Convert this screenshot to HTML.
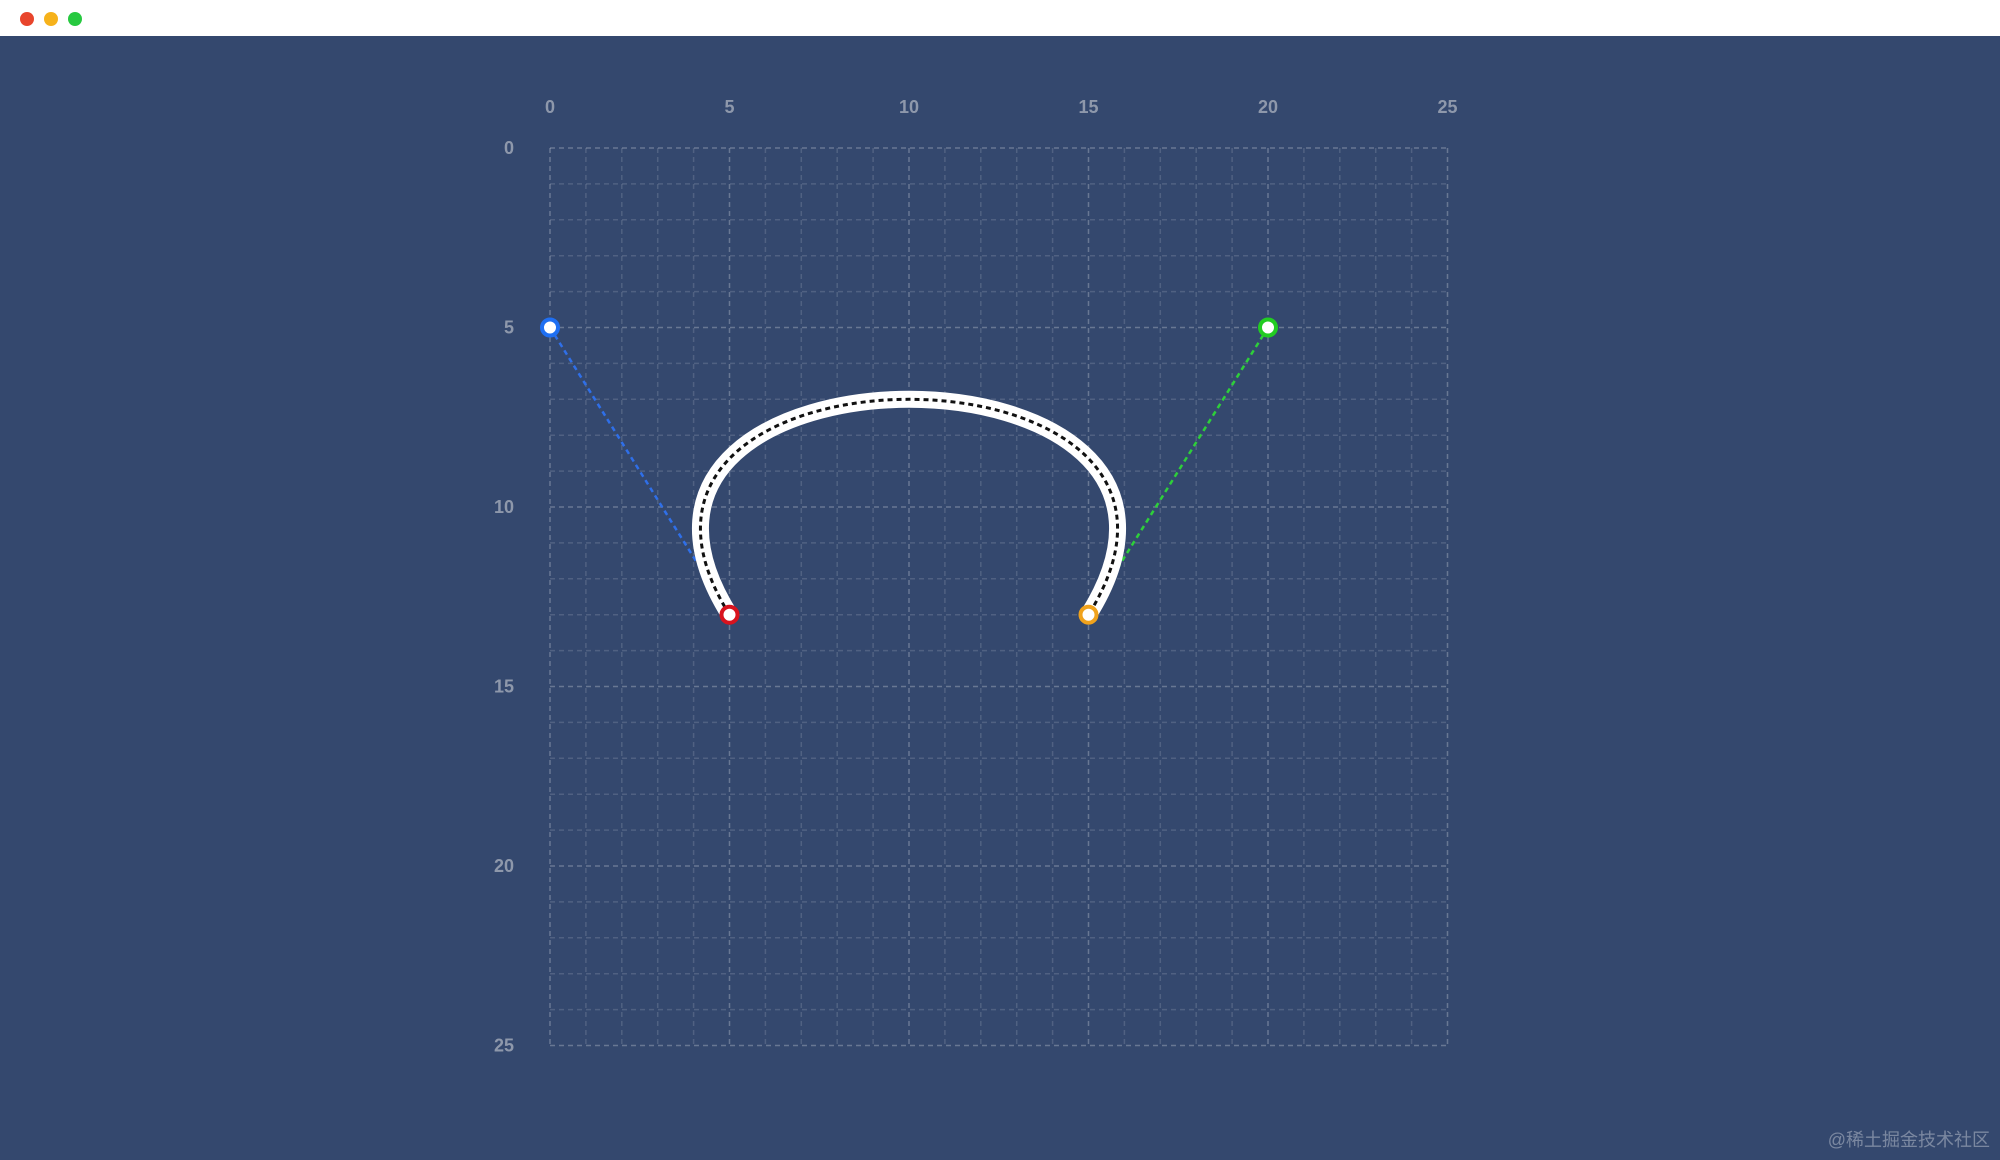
<!DOCTYPE html>
<html><head><meta charset="utf-8"><style>
html,body{margin:0;padding:0;width:2000px;height:1160px;overflow:hidden;background:#34486e;font-family:"Liberation Sans","Noto Sans CJK SC",sans-serif}
#bar{position:absolute;left:0;top:0;width:2000px;height:36px;background:#fff}
.d{position:absolute;top:12px;width:14px;height:14px;border-radius:50%}
#wm{position:absolute;right:10px;bottom:8px;color:rgba(255,255,255,0.35);font-size:18px}
</style></head><body>
<div id="bar">
<div class="d" style="left:20px;background:#e8452c"></div>
<div class="d" style="left:44px;background:#f6b21b"></div>
<div class="d" style="left:68px;background:#27c940"></div>
</div>
<svg id="chart" width="2000" height="1160" style="position:absolute;left:0;top:0"></svg>
<div id="wm">@稀土掘金技术社区</div>
<script>
const xTicks=[0,5,10,15,20,25];
const yTicks=[0,5,10,15,20,25];
const startPt=[5,13];
const ctrl1=[0,5];
const ctrl2=[20,5];
const endPt=[15,13];
const X0=550,Y0=148,U=35.9;
function sx(v){return X0+v*U}
function sy(v){return Y0+v*U}
const svg=document.getElementById('chart');
const NS='http://www.w3.org/2000/svg';
function mk(t,a,name){const e=document.createElementNS(NS,t);for(const k in a)e.setAttribute(k,a[k]);


svg.appendChild(e);return e;}
for(let i=0;i<=25;i++){
 const maj=i%5===0;
 const c=maj?'rgba(255,255,255,0.26)':'rgba(255,255,255,0.14)';
 mk('line',{x1:sx(i),y1:sy(0),x2:sx(i),y2:sy(25),stroke:c,'stroke-width':1.5,'stroke-dasharray':'5 4'},'grid-line-v');
 mk('line',{x1:sx(0),y1:sy(i),x2:sx(25),y2:sy(i),stroke:c,'stroke-width':1.5,'stroke-dasharray':'5 4'},'grid-line-h');
}
xTicks.forEach(v=>{const t=mk('text',{x:sx(v),y:113,'text-anchor':'middle',fill:'#8e98ab','font-size':18,'font-weight':'bold'},'x-tick-label');t.textContent=v;});
yTicks.forEach(v=>{const t=mk('text',{x:514,y:sy(v)+6,'text-anchor':'end',fill:'#8e98ab','font-size':18,'font-weight':'bold'},'y-tick-label');t.textContent=v;});
mk('line',{x1:sx(ctrl1[0]),y1:sy(ctrl1[1]),x2:sx(startPt[0]),y2:sy(startPt[1]),stroke:'#2f6fe8','stroke-width':2.5,'stroke-dasharray':'5 4'},'control-line-1');
mk('line',{x1:sx(ctrl2[0]),y1:sy(ctrl2[1]),x2:sx(endPt[0]),y2:sy(endPt[1]),stroke:'#2ecf3a','stroke-width':2.5,'stroke-dasharray':'5 4'},'control-line-2');
const d=`M${sx(startPt[0])},${sy(startPt[1])} C${sx(ctrl1[0])},${sy(ctrl1[1])} ${sx(ctrl2[0])},${sy(ctrl2[1])} ${sx(endPt[0])},${sy(endPt[1])}`;
mk('path',{d:d,fill:'none',stroke:'#fff','stroke-width':17,'stroke-linecap':'round'},'bezier-curve');
mk('path',{d:d,fill:'none',stroke:'#111','stroke-width':3,'stroke-dasharray':'5 4'},'bezier-curve-dash');
[[startPt,'#d8131e','start-point'],[endPt,'#f0a21c','end-point'],[ctrl1,'#1f6ff2','control-point-1'],[ctrl2,'#22cc22','control-point-2']].forEach(p=>{
 const c=mk('circle',{cx:sx(p[0][0]),cy:sy(p[0][1]),r:8,fill:'#fff',stroke:p[1],'stroke-width':4},p[2]);
 
});
</script>
</body></html>
